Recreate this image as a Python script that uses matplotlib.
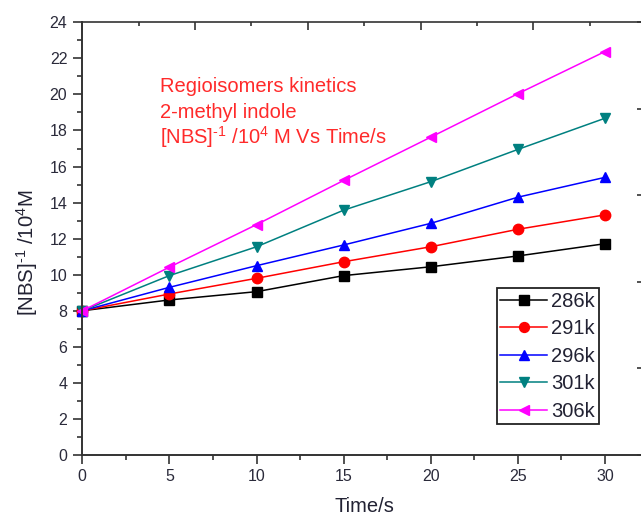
import matplotlib
matplotlib.use("Agg")
import matplotlib.pyplot as plt
from matplotlib.ticker import MultipleLocator

plt.rcParams['font.family'] = ['Liberation Sans', 'DejaVu Sans']
plt.rcParams['mathtext.fontset'] = 'custom'
plt.rcParams['mathtext.rm'] = 'Liberation Sans'
plt.rcParams['mathtext.it'] = 'Liberation Sans:italic'
plt.rcParams['mathtext.bf'] = 'Liberation Sans:bold'

time_s = [0, 5, 10, 15, 20, 25, 30]
k286 = [8.0, 8.6, 9.06, 9.95, 10.44, 11.04, 11.72]
k291 = [8.0, 8.93, 9.8, 10.72, 11.55, 12.52, 13.32]
k296 = [8.0, 9.3, 10.5, 11.65, 12.85, 14.3, 15.4]
k301 = [8.0, 9.95, 11.55, 13.58, 15.16, 16.95, 18.68]
k306 = [8.0, 10.42, 12.78, 15.23, 17.63, 20.04, 22.38]
labels = ['286k', '291k', '296k', '301k', '306k']
series = [k286, k291, k296, k301, k306]
colors = ['#000000', '#ff0000', '#0000ff', '#008080', '#ff00ff']
markers = ['s', 'o', '^', 'v', '<']

fig = plt.figure(figsize=(6.41, 5.19), dpi=100)
W, H = 641, 519
x0, x1 = 82.3, 646.0
ytop, ybot = 22.3, 455.0
ax = fig.add_axes([x0 / W, 1 - ybot / H, (x1 - x0) / W, (ybot - ytop) / H])

for ys, lab, c, m in zip(series, labels, colors, markers):
    ax.plot(time_s, ys, color=c, marker=m, markersize=7.5, linewidth=1.1,
            label=lab, clip_on=False)

ax.set_xlim(0, 32.35)
ax.set_ylim(0, 24)
ax.xaxis.set_major_locator(MultipleLocator(5))
ax.xaxis.set_minor_locator(MultipleLocator(2.5))
ax.yaxis.set_major_locator(MultipleLocator(2))
ax.yaxis.set_minor_locator(MultipleLocator(1))
spc = '#333333'
for s in ['left', 'bottom']:
    ax.spines[s].set_color(spc)
    ax.spines[s].set_linewidth(1.4)
for s in ['top', 'right']:
    ax.spines[s].set_color(spc)
    ax.spines[s].set_linewidth(1.2)
ax.tick_params(axis='both', which='major', direction='out', length=6.3, width=1.2,
               color=spc, labelsize=11.5, labelcolor='#2a2a3a')
ax.tick_params(axis='both', which='minor', direction='out', length=3.3, width=1.2, color=spc)
ax.tick_params(axis='x', which='major', pad=4)
ax.tick_params(axis='y', which='major', pad=4.5)
ax.tick_params(top=False, right=False, which='both')

# linked top / right axes (own scales, inward ticks, no labels)
axt = ax.twiny()
axt.set_xlim(0, 10)
axt.xaxis.set_major_locator(MultipleLocator(2))
axt.xaxis.set_minor_locator(MultipleLocator(1))
axt.tick_params(axis='x', which='major', direction='in', length=5.5, width=1.2,
                color=spc, labeltop=False)
axt.tick_params(axis='x', which='minor', direction='in', length=3, width=1.2, color=spc)
axr = ax.twinx()
axr.set_ylim(0, 5)
axr.yaxis.set_major_locator(MultipleLocator(1))
axr.yaxis.set_minor_locator(MultipleLocator(0.5))
axr.tick_params(axis='y', which='major', direction='in', length=6.5, width=1.2,
                color=spc, labelright=False)
axr.tick_params(axis='y', which='minor', direction='in', length=3, width=1.2, color=spc)
for a in (axt, axr):
    for s in a.spines.values():
        s.set_visible(False)

ax.set_xlabel('Time/s', fontsize=14.5, color='#222233', labelpad=9)
ax.set_ylabel(r'[NBS]$^{\text{-}1}$ /10$^{\mathregular{4}}$M', fontsize=14.7,
              color='#222233', labelpad=9)
ax.yaxis.set_label_coords((40 - x0) / (x1 - x0), (ybot - 252.5) / (ybot - ytop))

leg = ax.legend(loc='lower left', bbox_to_anchor=((497 - x0) / (x1 - x0), (ybot - 424) / (ybot - ytop)),
                frameon=True, fancybox=False, framealpha=1, edgecolor='#222222',
                fontsize=14.5, handlelength=2.33, handletextpad=0.2, labelspacing=0.42,
                borderpad=0.17, borderaxespad=0, markerscale=0.95)
leg.get_frame().set_linewidth(1.3)
for t in leg.get_texts():
    t.set_color('#222233')

txt_color = '#ff2a2a'
tx = (160 - x0) / (x1 - x0)
ax.text(tx, (ybot - 92) / (ybot - ytop), 'Regioisomers kinetics',
        transform=ax.transAxes, fontsize=14.5, color=txt_color, ha='left', va='baseline')
ax.text(tx, (ybot - 118) / (ybot - ytop), '2-methyl indole',
        transform=ax.transAxes, fontsize=14.5, color=txt_color, ha='left', va='baseline')
ax.text(tx, (ybot - 144) / (ybot - ytop),
        r'[NBS]$^{\text{-}1}$ /10$^{\mathregular{4}}$ M Vs Time/s',
        transform=ax.transAxes, fontsize=14.5, color=txt_color, ha='left', va='baseline')

fig.savefig('out.png', dpi=100)
